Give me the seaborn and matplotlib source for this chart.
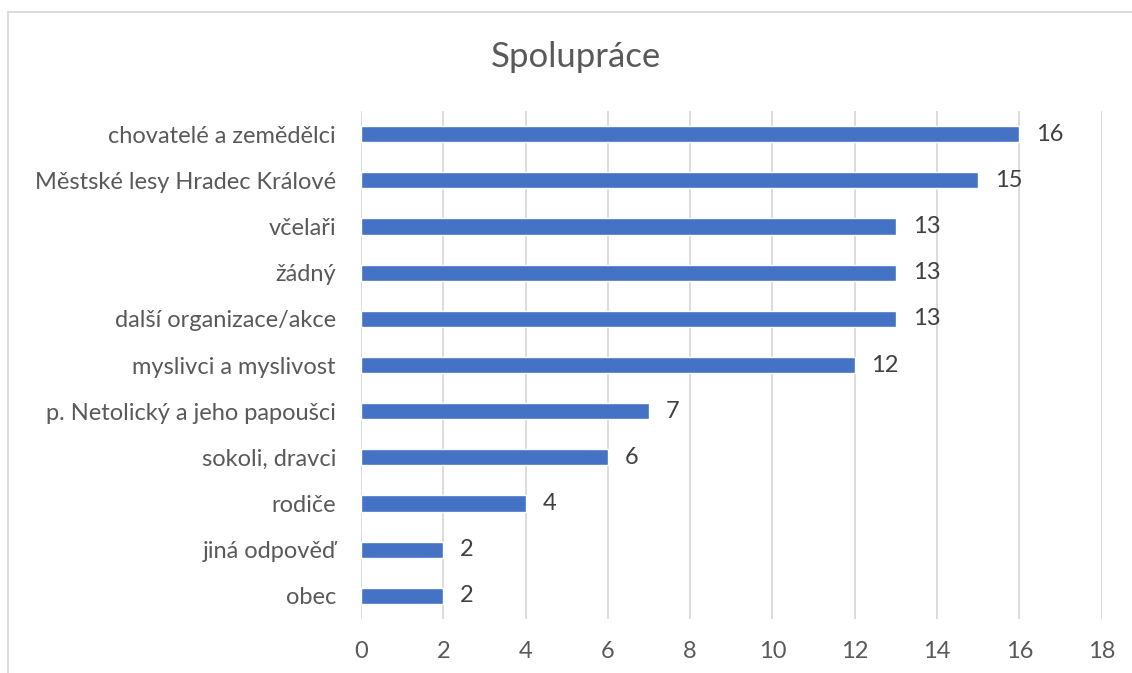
import matplotlib
matplotlib.use("Agg")
import matplotlib.pyplot as plt
import seaborn as sns
import pandas as pd
from matplotlib.lines import Line2D

categories = ["chovatelé a zemědělci", "Městské lesy Hradec Králové", "včelaři", "žádný",
              "další organizace/akce", "myslivci a myslivost", "p. Netolický a jeho papoušci",
              "sokoli, dravci", "rodiče", "jiná odpověď", "obec"]
values = [16, 15, 13, 13, 13, 12, 7, 6, 4, 2, 2]
xticks = [0, 2, 4, 6, 8, 10, 12, 14, 16, 18]

sns.set_theme(style="white")
plt.rcParams['font.family'] = ['Lato', 'DejaVu Sans']

df = pd.DataFrame({"cat": categories, "val": values})

fig = plt.figure(figsize=(11.32, 6.73), dpi=100)
ax = fig.add_axes([0.3189, 0.0802, 0.9732 - 0.3189, 0.835 - 0.0802])
sns.barplot(data=df, y="cat", x="val", orient="h", color="#4472C4", width=0.35,
            saturation=1, ax=ax, zorder=3)
ax.set_xlim(0, 18)
ax.set_xticks(xticks)
ax.set_xticklabels([str(t) for t in xticks])
ax.grid(axis="x", color="#D9D9D9", linewidth=1.3, zorder=0)
for s in ax.spines.values():
    s.set_visible(False)
ax.set_xlabel("")
ax.set_ylabel("")
ax.tick_params(axis="both", length=0, labelsize=17, colors="#595959")
ax.tick_params(axis="y", pad=18)
ax.tick_params(axis="x", pad=16)
for c in ax.containers:
    ax.bar_label(c, padding=12, fontsize=17, color="#404040")

fig.text(576 / 1132, 1 - 57 / 673, "Spolupráce", ha="center", va="center",
         fontsize=25, color="#595959")
fig.add_artist(Line2D([8 / 1132, 8 / 1132], [0, 1 - 12 / 673], transform=fig.transFigure,
                      color="#D9D9D9", linewidth=1.3))
fig.add_artist(Line2D([8 / 1132, 1], [1 - 12 / 673, 1 - 12 / 673], transform=fig.transFigure,
                      color="#D9D9D9", linewidth=1.3))
fig.savefig("out.png", dpi=100)
